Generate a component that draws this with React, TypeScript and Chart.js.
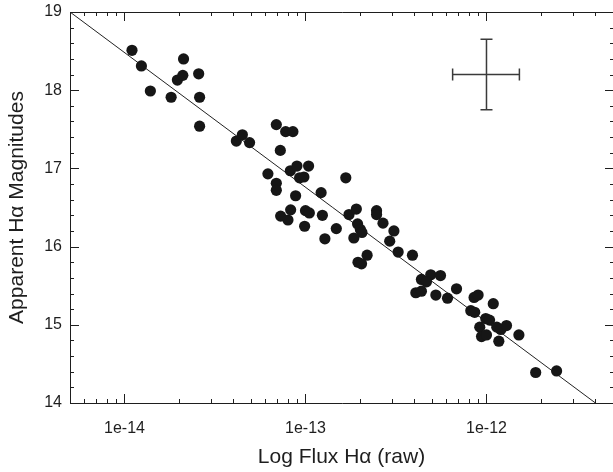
import React, { useEffect, useRef } from 'react';
import { Chart, registerables } from 'chart.js';

Chart.register(...registerables);

// Observed stars: raw H-alpha flux and apparent H-alpha magnitude
const FLUX = [
  1.10e-14, 1.24e-14, 1.39e-14, 1.81e-14, 1.96e-14, 2.10e-14, 2.12e-14, 2.57e-14, 2.60e-14, 2.60e-14,
  4.15e-14, 4.48e-14, 4.91e-14, 6.90e-14, 7.77e-14, 8.52e-14, 7.26e-14, 6.20e-14, 6.90e-14, 6.90e-14,
  8.25e-14, 8.97e-14, 9.28e-14, 9.80e-14, 1.04e-13, 8.82e-14, 1.22e-13, 1.67e-13, 7.29e-14, 8.00e-14,
  8.28e-14, 1.00e-13, 1.05e-13, 1.24e-13, 9.89e-14, 1.48e-13, 1.28e-13, 1.74e-13, 1.91e-13, 1.94e-13,
  2.01e-13, 2.05e-13, 1.85e-13, 2.47e-13, 2.47e-13, 2.68e-13, 3.08e-13, 2.92e-13, 3.25e-13, 3.90e-13,
  2.19e-13, 1.95e-13, 2.04e-13, 4.37e-13, 4.92e-13, 5.57e-13, 4.66e-13, 4.07e-13, 4.37e-13, 5.25e-13,
  6.09e-13, 6.83e-13, 8.54e-13, 8.99e-13, 1.09e-12, 8.19e-13, 8.61e-13, 9.91e-13, 1.04e-12, 9.18e-13,
  1.14e-12, 1.20e-12, 1.29e-12, 9.39e-13, 1.00e-12, 1.17e-12, 1.51e-12, 1.87e-12, 2.44e-12,
];
const MAG = [
  18.51, 18.31, 17.99, 17.91, 18.13, 18.19, 18.40, 18.21, 17.91, 17.54,
  17.35, 17.43, 17.33, 17.56, 17.47, 17.47, 17.23, 16.93, 16.81, 16.72,
  16.97, 17.03, 16.88, 16.89, 17.03, 16.65, 16.69, 16.88, 16.39, 16.34,
  16.47, 16.46, 16.43, 16.40, 16.26, 16.23, 16.10, 16.41, 16.48, 16.29,
  16.22, 16.18, 16.11, 16.46, 16.41, 16.30, 16.20, 16.07, 15.93, 15.89,
  15.89, 15.80, 15.78, 15.58, 15.64, 15.63, 15.55, 15.41, 15.43, 15.38,
  15.34, 15.46, 15.35, 15.38, 15.27, 15.18, 15.16, 15.08, 15.06, 14.97,
  14.97, 14.94, 14.99, 14.85, 14.87, 14.79, 14.87, 14.39, 14.41,
];

// Calibration line end points
const FIT_FLUX = [5e-15, 4e-12];
const FIT_MAG = [19, 14];

// Representative error bar
const ERR_FLUX = 1e-12;
const ERR_FLUX_LOW = 6.5e-13;
const ERR_FLUX_HIGH = 1.52e-12;
const ERR_MAG = 18.2;
const ERR_MAG_LOW = 17.75;
const ERR_MAG_HIGH = 18.65;

// Axes
const X_MIN = 5e-15;
const X_MAX = 5e-12;
const Y_MIN = 14;
const Y_MAX = 19;
const X_MAJOR = [1e-14, 1e-13, 1e-12];
const X_TICK_LABELS = ['1e-14', '1e-13', '1e-12'];
const X_MINOR_MULT = [2, 3, 4, 5, 6, 7, 8, 9];
const X_DECADES = [1e-15, 1e-14, 1e-13, 1e-12];
const Y_MAJOR = [14, 15, 16, 17, 18, 19];
const Y_TICK_LABELS = ['14', '15', '16', '17', '18', '19'];
const Y_MINOR_STEP = 0.2;

const X_TITLE = 'Log Flux H\u03b1 (raw)';
const Y_TITLE = 'Apparent H\u03b1 Magnitudes';

const FONT = "'Liberation Sans', Arial, Helvetica, sans-serif";
const INK = '#1e1e1e';

function xTickValues(): { value: number; major: boolean }[] {
  const out: { value: number; major: boolean }[] = [];
  X_DECADES.forEach((d) => {
    [1, ...X_MINOR_MULT].forEach((m) => {
      const v = m * d;
      if (v >= X_MIN * 0.999 && v <= X_MAX * 1.001) {
        const major = X_MAJOR.some((mv) => Math.abs(mv - v) / mv < 1e-6);
        out.push({ value: v, major });
      }
    });
  });
  return out;
}

function yTickValues(): { value: number; major: boolean }[] {
  const out: { value: number; major: boolean }[] = [];
  const n = Math.round((Y_MAX - Y_MIN) / Y_MINOR_STEP);
  for (let i = 0; i <= n; i++) {
    const v = Math.round((Y_MIN + i * Y_MINOR_STEP) * 1000) / 1000;
    out.push({ value: v, major: Y_MAJOR.includes(v) });
  }
  return out;
}

const frameTicksPlugin = {
  id: 'frameTicks',
  afterDatasetsDraw(chart: any) {
    const { ctx, chartArea, scales } = chart;
    const { left, right, top, bottom } = chartArea;
    const xs = scales.x;
    const ys = scales.y;
    ctx.save();
    ctx.strokeStyle = INK;
    ctx.lineWidth = 1;
    ctx.beginPath();
    ctx.moveTo(right + 1, top + 0.5);
    ctx.lineTo(left + 0.5, top + 0.5);
    ctx.lineTo(left + 0.5, bottom + 0.5);
    ctx.lineTo(right + 1, bottom + 0.5);
    ctx.stroke();
    ctx.beginPath();
    xTickValues().forEach((t) => {
      const px = Math.round(xs.getPixelForValue(t.value)) + 0.5;
      const len = t.major ? 9 : 4;
      ctx.moveTo(px, bottom);
      ctx.lineTo(px, bottom - len);
      ctx.moveTo(px, top);
      ctx.lineTo(px, top + len);
    });
    yTickValues().forEach((t) => {
      const py = Math.round(ys.getPixelForValue(t.value)) + 0.5;
      const len = t.major ? 9 : 4;
      ctx.moveTo(left, py);
      ctx.lineTo(left + len, py);
      ctx.moveTo(right + 1, py);
      ctx.lineTo(right + 1 - len, py);
    });
    ctx.stroke();

    // error bar cross
    const cx = xs.getPixelForValue(ERR_FLUX);
    const cy = ys.getPixelForValue(ERR_MAG);
    const x0 = xs.getPixelForValue(ERR_FLUX_LOW);
    const x1 = xs.getPixelForValue(ERR_FLUX_HIGH);
    const y0 = ys.getPixelForValue(ERR_MAG_LOW);
    const y1 = ys.getPixelForValue(ERR_MAG_HIGH);
    const cap = 6;
    ctx.strokeStyle = '#3a3a3a';
    ctx.lineWidth = 1.5;
    ctx.beginPath();
    ctx.moveTo(cx, y0);
    ctx.lineTo(cx, y1);
    ctx.moveTo(cx - cap, y0);
    ctx.lineTo(cx + cap, y0);
    ctx.moveTo(cx - cap, y1);
    ctx.lineTo(cx + cap, y1);
    ctx.moveTo(x0, cy);
    ctx.lineTo(x1, cy);
    ctx.moveTo(x0, cy - cap);
    ctx.lineTo(x0, cy + cap);
    ctx.moveTo(x1, cy - cap);
    ctx.lineTo(x1, cy + cap);
    ctx.stroke();
    ctx.restore();
  },
};

export default function App() {
  const ref = useRef<HTMLCanvasElement | null>(null);

  useEffect(() => {
    if (!ref.current) return;
    const points = FLUX.map((f, i) => ({ x: f, y: MAG[i] }));
    const fit = FIT_FLUX.map((f, i) => ({ x: f, y: FIT_MAG[i] }));
    const chart = new Chart(ref.current, {
      type: 'scatter',
      data: {
        datasets: [
          {
            type: 'scatter',
            data: points,
            pointRadius: 5.6,
            pointHoverRadius: 5.6,
            backgroundColor: '#161616',
            borderWidth: 0,
          },
          {
            type: 'line',
            data: fit,
            borderColor: '#222',
            borderWidth: 1,
            pointRadius: 0,
            fill: false,
          },
        ],
      } as any,
      options: {
        animation: false,
        responsive: false,
        layout: { autoPadding: false, padding: { top: 12, right: 0, bottom: 0, left: 0 } },
        plugins: { legend: { display: false }, tooltip: { enabled: false } },
        scales: {
          x: {
            type: 'logarithmic',
            min: X_MIN,
            max: X_MAX,
            grid: { display: false, drawTicks: false },
            border: { display: false },
            afterBuildTicks: (s: any) => {
              s.ticks = xTickValues().map((t) => ({ value: t.value, major: false }));
            },
            afterFit: (s: any) => {
              s.height = 69;
              s.paddingLeft = 0;
              s.paddingRight = 0;
            },
            ticks: {
              autoSkip: false,
              maxRotation: 0,
              padding: 16,
              color: INK,
              font: { family: FONT, size: 16 },
              callback: (v: any) => {
                const idx = X_MAJOR.findIndex((mv) => Math.abs(mv - Number(v)) / mv < 1e-6);
                return idx >= 0 ? X_TICK_LABELS[idx] : '';
              },
            },
            title: {
              display: true,
              text: X_TITLE,
              color: INK,
              font: { family: FONT, size: 21 },
              padding: { top: 0, bottom: 2 },
            },
          },
          y: {
            type: 'linear',
            min: Y_MIN,
            max: Y_MAX,
            grid: { display: false, drawTicks: false },
            border: { display: false },
            afterBuildTicks: (s: any) => {
              s.ticks = yTickValues().map((t) => ({ value: t.value }));
            },
            afterFit: (s: any) => {
              s.width = 70;
              s.paddingTop = 0;
              s.paddingBottom = 0;
            },
            ticks: {
              autoSkip: false,
              padding: 8,
              color: INK,
              font: { family: FONT, size: 16 },
              callback: (v: any) => {
                const idx = Y_MAJOR.findIndex((mv) => Math.abs(mv - Number(v)) < 1e-6);
                return idx >= 0 ? Y_TICK_LABELS[idx] : '';
              },
            },
            title: {
              display: true,
              text: Y_TITLE,
              color: INK,
              font: { family: FONT, size: 21 },
              padding: { top: 5, bottom: 0 },
            },
          },
        },
      } as any,
      plugins: [frameTicksPlugin],
    });
    return () => chart.destroy();
  }, []);

  return (
    <div style={{ position: 'fixed', left: 0, top: 0, width: 613, height: 472, background: '#fff' }}>
      <canvas ref={ref} width={613} height={472} style={{ display: 'block', width: 613, height: 472 }} />
    </div>
  );
}
